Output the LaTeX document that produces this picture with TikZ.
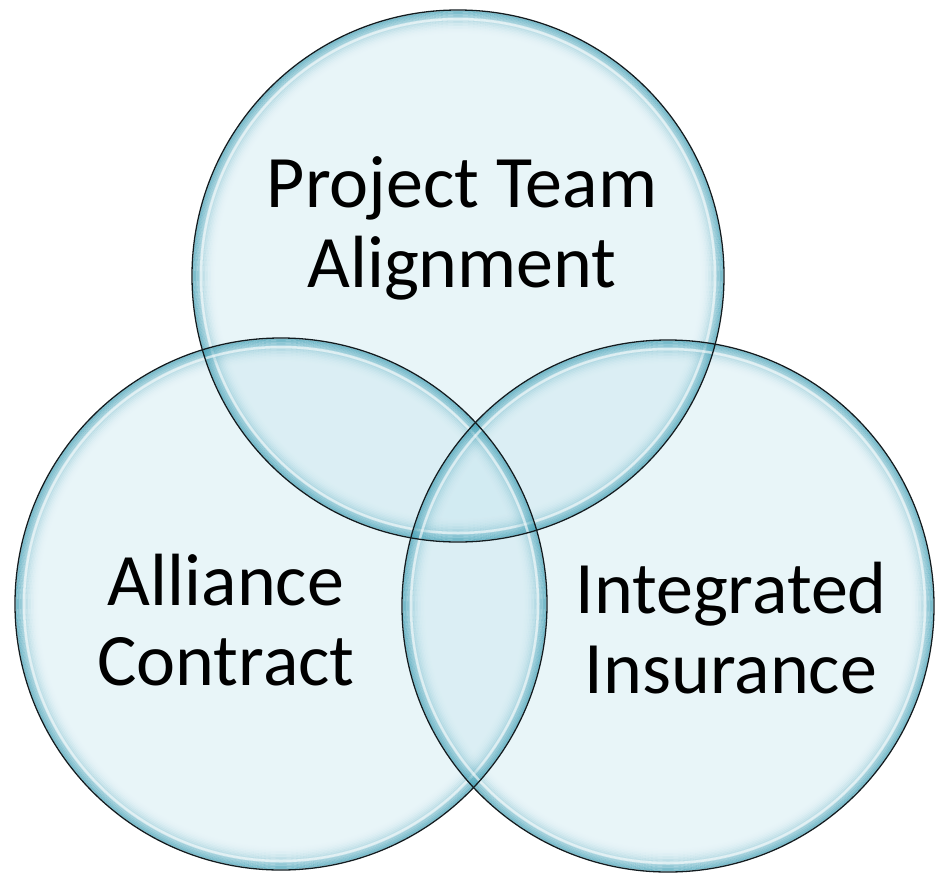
\documentclass[tikz,border=0pt]{standalone}
\usepackage{fontspec}
\setmainfont{Carlito}
\usepackage{tikz}
\usetikzlibrary{positioning}
\definecolor{bubble1}{HTML}{C6E5EE}
\definecolor{glow1}{HTML}{3E9DB3}
\definecolor{rim1}{HTML}{121C20}

\begin{document}
\begin{tikzpicture}[
    x=1pt, y=-1pt,
    bubble/.style={fill=bubble1, fill opacity=0.4},
    rim/.style={draw=rim1, line width=1.3pt},
    lbl/.style={align=center, anchor=base, inner sep=0pt,
                font=\fontsize{74}{80}\selectfont},
]
\useasboundingbox (0,0) rectangle (935,879);

\coordinate (team) at (458,276);
\coordinate (alli) at (281,604);
\coordinate (insu) at (668,606);

% fills
\foreach \c in {team,alli,insu}
  \fill[bubble] (\c) circle[radius=266pt];

% inner glow near the rim
\foreach \c in {team,alli,insu}{
  \foreach \i in {1,...,16}
    \draw[glow1, line width=1.6pt, opacity={0.7*(1-\i/16)^2}]
      (\c) circle[radius={266pt-\i*1.5pt}];
  \draw[white, line width=2.5pt, opacity=0.6] (\c) circle[radius=257pt];
}

% rims
\foreach \c in {team,alli,insu}
  \draw[rim] (\c) circle[radius=266pt];

\node[lbl] (teamtxt) at (462,287) {Project Team\\Alignment};
\node[lbl] (allitxt) at (226,685) {Alliance\\Contract};
\node[lbl] (insutxt) at (731,693) {Integrated\\Insurance};
\end{tikzpicture}
\end{document}
